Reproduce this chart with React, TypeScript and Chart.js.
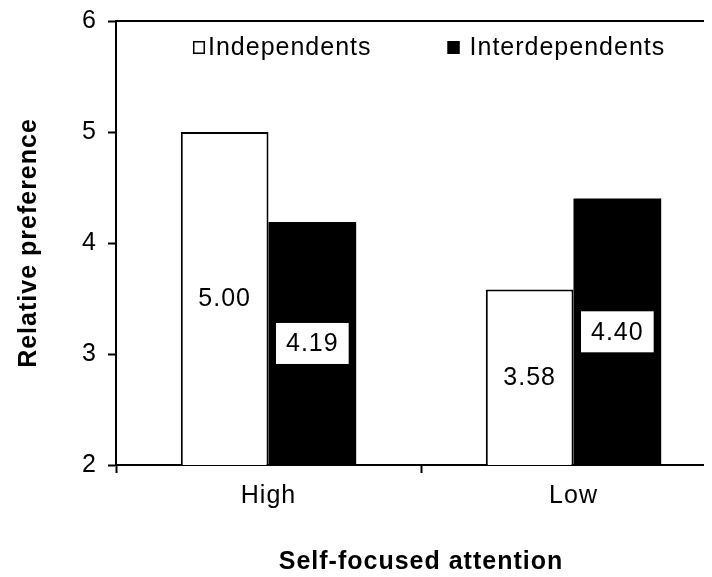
import { useEffect, useRef } from "react";
import { Chart, registerables } from "chart.js";

Chart.register(...registerables);

const categories = ["High", "Low"];
const seriesLabels = ["Independents", "Interdependents"];
const independents = [5.0, 3.58];
const interdependents = [4.19, 4.4];
const yTicks = [2, 3, 4, 5, 6];
const xTitle = "Self-focused attention";
const yTitle = "Relative preference";

const FONT = '"Liberation Sans", Arial, sans-serif';
const SPACING = "1px";

const spacingPlugin = {
  id: "spacing",
  beforeLayout(chart: any) {
    chart.ctx.letterSpacing = SPACING;
  },
  beforeDraw(chart: any) {
    chart.ctx.letterSpacing = SPACING;
  },
};

const framePlugin = {
  id: "frame",
  afterDraw(chart: any) {
    const { ctx, chartArea } = chart;
    ctx.save();
    ctx.strokeStyle = "#000";
    ctx.lineWidth = 2;
    ctx.beginPath();
    ctx.moveTo(chartArea.left, chartArea.top);
    ctx.lineTo(chartArea.right, chartArea.top);
    ctx.stroke();
    ctx.restore();
  },
};

const valuePlugin = {
  id: "values",
  afterDatasetsDraw(chart: any) {
    const ctx = chart.ctx;
    const yScale = chart.scales.y;
    const base = yScale.getPixelForValue(yScale.min);
    ctx.save();
    ctx.letterSpacing = SPACING;
    ctx.font = `25px ${FONT}`;
    ctx.textAlign = "center";
    ctx.textBaseline = "middle";
    chart.data.datasets.forEach((ds: any, di: number) => {
      const meta = chart.getDatasetMeta(di);
      meta.data.forEach((bar: any, i: number) => {
        const v = ds.data[i] as number;
        const txt = v.toFixed(2);
        const cx = bar.x;
        const cy = (yScale.getPixelForValue(v) + base) / 2;
        if (di === 1) {
          const w = ctx.measureText(txt).width + 20;
          const h = 41;
          ctx.fillStyle = "#fff";
          ctx.fillRect(cx - w / 2, cy - h / 2, w, h);
        }
        ctx.fillStyle = "#000";
        ctx.fillText(txt, cx, cy + 1);
      });
    });
    ctx.restore();
  },
};

const legendPlugin = {
  id: "innerLegend",
  afterDraw(chart: any) {
    const { ctx, chartArea } = chart;
    ctx.save();
    ctx.letterSpacing = SPACING;
    ctx.font = `25px ${FONT}`;
    ctx.textAlign = "left";
    ctx.textBaseline = "middle";
    let x = chartArea.left + 77;
    const y = chartArea.top + 26;
    chart.data.datasets.forEach((ds: any, i: number) => {
      ctx.fillStyle = ds.backgroundColor;
      ctx.fillRect(x, y - 6, 12, 13);
      ctx.strokeStyle = "#000";
      ctx.lineWidth = 1.5;
      ctx.strokeRect(x + 0.75, y - 6 + 0.75, 10.5, 11.5);
      x += 12 + (i === 0 ? 3 : 10);
      ctx.fillStyle = "#000";
      ctx.fillText(ds.label, x, y + 1);
      x += ctx.measureText(ds.label).width + 76;
    });
    ctx.restore();
  },
};

export default function App() {
  const ref = useRef<HTMLCanvasElement | null>(null);

  useEffect(() => {
    document.documentElement.style.overflow = "hidden";
    document.body.style.overflow = "hidden";
    const canvas = ref.current;
    if (!canvas) return;
    const chart = new Chart(canvas, {
      type: "bar",
      data: {
        labels: categories,
        datasets: [
          {
            label: seriesLabels[0],
            data: independents,
            backgroundColor: "#fff",
            borderColor: "#000",
            borderWidth: 2,
          },
          {
            label: seriesLabels[1],
            data: interdependents,
            backgroundColor: "#000",
            borderColor: "#000",
            borderWidth: 0,
          },
        ],
      },
      plugins: [spacingPlugin, framePlugin, valuePlugin, legendPlugin],
      options: {
        responsive: false,
        animation: false,
        devicePixelRatio: 1,
        layout: { padding: { top: 0, left: 0, right: 12, bottom: 0 } },
        datasets: {
          bar: { categoryPercentage: 0.575, barPercentage: 1.0 },
        },
        plugins: {
          legend: { display: false },
          tooltip: { enabled: false },
        },
        scales: {
          x: {
            type: "category",
            offset: true,
            grid: {
              display: true,
              drawOnChartArea: false,
              offset: true,
              tickLength: 8,
              tickWidth: 2,
              color: "#000",
            },
            border: { display: true, color: "#000", width: 2 },
            ticks: {
              color: "#000",
              font: { family: FONT, size: 25 },
              padding: 8,
            },
            title: {
              display: true,
              text: xTitle,
              color: "#000",
              font: { family: FONT, size: 25, weight: "bold" },
              padding: { top: 0, bottom: 0 },
            },
            afterFit: (s: any) => {
              s.height = 112;
            },
          },
          y: {
            min: yTicks[0],
            max: yTicks[yTicks.length - 1],
            afterBuildTicks: (s: any) => {
              s.ticks = yTicks.map((v) => ({ value: v }));
            },
            grid: {
              display: true,
              drawOnChartArea: false,
              tickLength: 8,
              tickWidth: 2,
              color: "#000",
            },
            border: { display: true, color: "#000", width: 2 },
            ticks: {
              color: "#000",
              font: { family: FONT, size: 25 },
              padding: 11,
              callback: (v: any) => String(v),
            },
            title: {
              display: true,
              text: yTitle,
              color: "#000",
              font: { family: FONT, size: 25, weight: "bold" },
              padding: { top: 6, bottom: 0 },
            },
            afterFit: (s: any) => {
              s.width = 108;
            },
          },
        },
      },
    } as any);
    return () => chart.destroy();
  }, []);

  return (
    <div style={{ width: 704, height: 569, overflow: "hidden" }}>
      <canvas
        ref={ref}
        width={730}
        height={582}
        style={{ display: "block", marginTop: -13 }}
      />
    </div>
  );
}
